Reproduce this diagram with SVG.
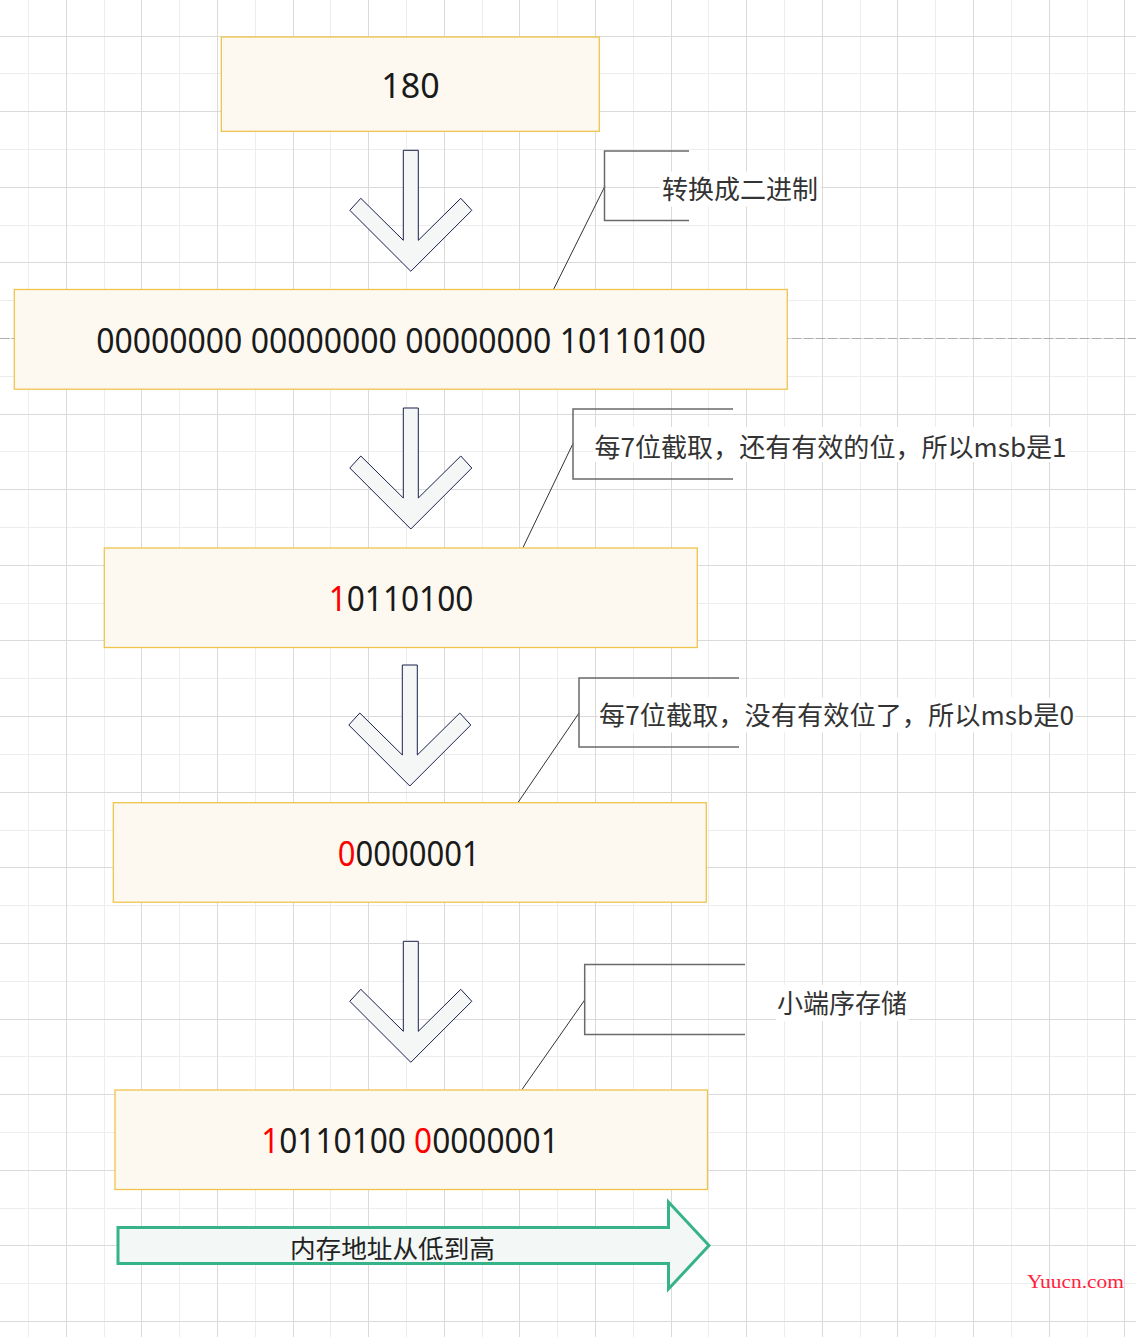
<svg xmlns="http://www.w3.org/2000/svg" width="1136" height="1337" viewBox="0 0 1136 1337">
<style>
.box{fill:#fdf9f1;stroke:#f0c44c;stroke-width:1.3}
.num{font-family:"Noto Sans","Liberation Sans",sans-serif;font-size:34px;fill:#1a1a1a}
.red{fill:#ff0000}
.note{font-family:"Noto Sans CJK SC","Noto Sans",sans-serif;font-size:26px;fill:#333333}
.brk{fill:none;stroke:#6a6a6a;stroke-width:1.5}
.lnk{fill:none;stroke:#333333;stroke-width:1}
.darr{fill:#f4f7f6;stroke:#1b1f4d;stroke-width:1}
.bg{fill:#ffffff}
</style>
<defs>
<polygon id="downArrow" points="-7.5,0 7.5,0 7.5,90 50,48 61,60 0,121 -61,60 -50,48 -7.5,90"/>
</defs>
<rect width="1136" height="1337" fill="#ffffff"/>
<g id="grid" shape-rendering="crispEdges" fill="none">
<path stroke="#ededed" stroke-width="1" d="M28.5,0V1337M104.5,0V1337M179.5,0V1337M255.5,0V1337M330.5,0V1337M406.5,0V1337M482.5,0V1337M557.5,0V1337M633.5,0V1337M708.5,0V1337M784.5,0V1337M860.5,0V1337M935.5,0V1337M1011.5,0V1337M1087.5,0V1337M0,73.5H1136M0,149.5H1136M0,225.5H1136M0,300.5H1136M0,376.5H1136M0,451.5H1136M0,527.5H1136M0,603.5H1136M0,678.5H1136M0,754.5H1136M0,830.5H1136M0,905.5H1136M0,981.5H1136M0,1056.5H1136M0,1132.5H1136M0,1208.5H1136M0,1283.5H1136"/>
<path stroke="#dadada" stroke-width="1" d="M66.5,0V1337M141.5,0V1337M217.5,0V1337M293.5,0V1337M368.5,0V1337M444.5,0V1337M519.5,0V1337M595.5,0V1337M671.5,0V1337M746.5,0V1337M822.5,0V1337M897.5,0V1337M973.5,0V1337M1049.5,0V1337M1124.5,0V1337M0,36.5H1136M0,111.5H1136M0,187.5H1136M0,262.5H1136M0,338.5H1136M0,414.5H1136M0,489.5H1136M0,565.5H1136M0,640.5H1136M0,716.5H1136M0,792.5H1136M0,867.5H1136M0,943.5H1136M0,1019.5H1136M0,1094.5H1136M0,1170.5H1136M0,1245.5H1136M0,1321.5H1136"/>
</g>
<line x1="0" y1="338.5" x2="1136" y2="338.5" stroke="#acacac" stroke-width="1" stroke-dasharray="9 3"/>
<g id="connectors">
<line class="lnk" x1="605" y1="186" x2="553.5" y2="289.5"/>
<line class="lnk" x1="573" y1="443.5" x2="523" y2="547.5"/>
<line class="lnk" x1="579" y1="713" x2="518" y2="802.5"/>
<line class="lnk" x1="584.7" y1="1000" x2="522" y2="1089.5"/>
<use href="#downArrow" class="darr" transform="translate(410.8,150.3)"/>
<use href="#downArrow" class="darr" transform="translate(410.8,408)"/>
<use href="#downArrow" class="darr" transform="translate(409.8,665)"/>
<use href="#downArrow" class="darr" transform="translate(410.8,941.3)"/>
</g>
<g id="node-180">
<rect class="box" x="221.3" y="37" width="378" height="94.3"/>
<text class="num" x="410.5" y="98" text-anchor="middle">180</text>
</g>
<g id="node-binary32">
<rect class="box" x="14.3" y="289.5" width="773" height="99.7"/>
<text class="num" transform="translate(401,353) scale(0.94,1)" x="0" y="0" text-anchor="middle">00000000 00000000 00000000 10110100</text>
</g>
<g id="node-byte1">
<rect class="box" x="104.3" y="548" width="593" height="99.5"/>
<text class="num" transform="translate(401,611) scale(0.93,1)" x="0" y="0" text-anchor="middle"><tspan class="red">1</tspan>0110100</text>
</g>
<g id="node-byte2">
<rect class="box" x="113.3" y="802.7" width="593" height="99.5"/>
<text class="num" transform="translate(408.8,866) scale(0.913,1)" x="0" y="0" text-anchor="middle"><tspan class="red">0</tspan>0000001</text>
</g>
<g id="node-result">
<rect class="box" x="115" y="1090" width="592.5" height="99.5"/>
<text class="num" transform="translate(410,1153) scale(0.93,1)" x="0" y="0" text-anchor="middle"><tspan class="red">1</tspan>0110100 <tspan class="red">0</tspan>0000001</text>
</g>
<g id="note-tobinary">
<path class="brk" d="M689,151H604.5V220.5H689"/>
<rect class="bg" x="660" y="171.5" width="161" height="35"/>
<text class="note" x="662" y="199">转换成二进制</text>
</g>
<g id="note-msb1">
<path class="brk" d="M733,409H573V479H733"/>
<rect class="bg" x="593" y="427" width="475" height="35"/>
<text class="note" x="594.5" y="457" textLength="472" lengthAdjust="spacingAndGlyphs">每7位截取，还有有效的位，所以msb是1</text>
</g>
<g id="note-msb0">
<path class="brk" d="M739,678H579V747H739"/>
<rect class="bg" x="598" y="697.5" width="477" height="35"/>
<text class="note" x="599" y="725" textLength="475" lengthAdjust="spacingAndGlyphs">每7位截取，没有有效位了，所以msb是0</text>
</g>
<g id="note-little-endian">
<path class="brk" d="M745,964.5H584.7V1034.5H745" stroke="#222222"/>
<rect class="bg" x="776" y="985" width="133" height="36"/>
<text class="note" x="777" y="1013">小端序存储</text>
</g>
<g id="memory-arrow">
<polygon points="118,1227.5 668.5,1227.5 668.5,1202 709,1245.5 668.5,1289 668.5,1263.5 118,1263.5" fill="#f3f7f5" stroke="#37b38a" stroke-width="3" stroke-linejoin="miter"/>
<text x="290" y="1258" font-family="Noto Sans CJK SC,Noto Sans,sans-serif" font-size="25" fill="#222222" textLength="205" lengthAdjust="spacingAndGlyphs">内存地址从低到高</text>
</g>
<text x="1027" y="1288" font-family="Liberation Serif,serif" font-size="18" fill="#ff1f3f" textLength="97" lengthAdjust="spacingAndGlyphs">Yuucn.com</text>
</svg>
